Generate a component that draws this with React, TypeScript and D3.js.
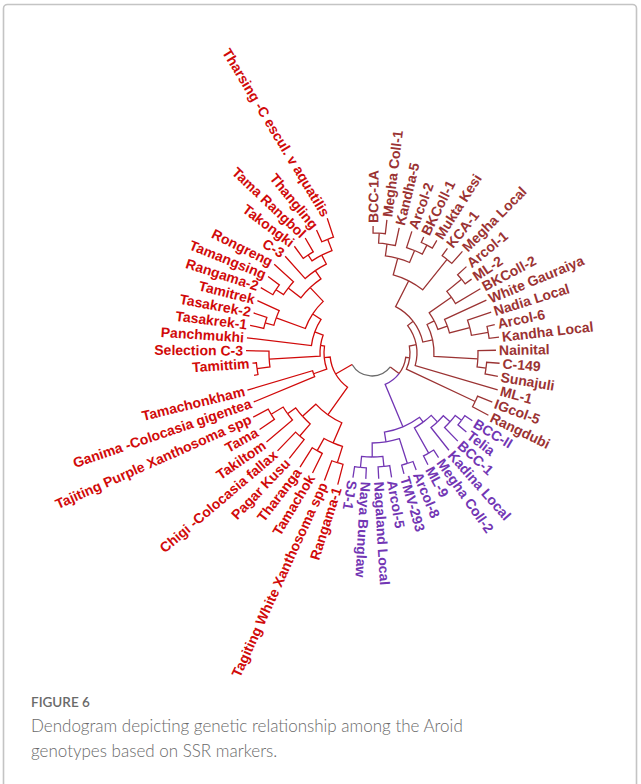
import React from 'react';
import * as d3 from 'd3';

// Newick fragments for each clade; branch lengths are genetic distances.
const brownTop =
  '((((BCC-1A:0.07,Megha Coll-1:0.14):0.10,Kandha-5:0.18):0.12,(Arcol-2:0.17,(BKColl-1:0.06,Mukta Kesi:0.09):0.10):0.13):0.17,(KCA-1:0.09,Megha Local:0.16):0.39)';
const brownMid =
  '(((Arcol-1:0.12,ML-2:0.08):0.19,BKColl-2:0.29):0.27,(White Gauraiya:0.46,(Nadia Local:0.25,(Arcol-6:0.08,Kandha Local:0.10):0.17):0.21):0.10)';
const brownNainital = '(Nainital:0.18,(C-149:0.13,Sunajuli:0.13):0.09)';
const brownClade = `(((${brownTop}:0.29,(${brownMid}:0.08,${brownNainital}:0.44):0.10):0.07,ML-1:0.86):0.07,(IGcol-5:0.16,Rangdubi:0.18):0.76)`;

const purpleRight =
  '((((BCC-II:0.09,Telia:0.11):0.08,BCC-1:0.19):0.09,Kadina Local:0.29):0.09,(Megha Coll-2:0.09,ML-9:0.10):0.29)';
const purpleLeft =
  '((Arcol-8:0.09,TMV-293:0.09):0.26,((Arcol-5:0.12,Nagaland Local:0.12):0.10,(Naya Bunglaw:0.11,SJ-1:0.11):0.11):0.14)';
const purpleClade = `(${purpleRight}:0.06,${purpleLeft}:0.10)`;

const redLower =
  '(((Rangama-1:0.21,Tagiting White Xanthosoma spp:0.21):0.17,(Tamachok:0.22,Tharanga:0.23):0.14):0.22,((Pagar Kusu:0.24,Chigi -Colocasia fallax:0.26):0.16,(Takiltom:0.34,(Tama:0.18,Tajiting Purple Xanthosoma spp:0.17):0.14):0.10):0.18)';
const redPair = '(Ganima -Colocasia gigentea:0.66,Tamachonkham:0.68)';
const redSelection = '((:0.04,Tamittim:0.04):0.13,Selection C-3:0.23)';
const redTasakrek = '((Tasakrek-1:0.14,Tasakrek-2:0.14):0.09,Tamitrek:0.24)';
const redTop =
  '(((Rangama-2:0.14,Tamangsing:0.14):0.09,Rongreng:0.26):0.16,(C-3:0.30,((Takongki:0.15,Tama Rangbol:0.16):0.07,(Thangling:0.13,Tharsing -C escul. v aquatilis:0.20):0.12):0.10):0.10)';
const redClade = `(${redLower}:0.34,(${redPair}:0.14,(${redSelection}:0.51,(Panchmukhi:0.65,(${redTasakrek}:0.31,${redTop}:0.19):0.10):0.09):0.04):0.06)`;

// stems joining the clades to the root
const stemLengths = { red: 0.19, brownPurple: 0.11, brown: 0.04, purple: 0.46 };

const cladeColors: Record<string, string> = {
  red: '#d10a0a',
  brown: '#9b3333',
  purple: '#7236b4',
};
const rootColor = '#6b6b6b';

const captionTitle = 'FIGURE 6';
const captionLines = [
  'Dendogram depicting genetic relationship among the Aroid',
  'genotypes based on SSR markers.',
];

type Nw = { name: string; length: number; clade?: string; children?: Nw[] };

function parseNewick(s: string): Nw {
  let i = 0;
  const read = (): Nw => {
    const n: Nw = { name: '', length: 0 };
    if (s[i] === '(') {
      i++;
      n.children = [read()];
      while (s[i] === ',') {
        i++;
        n.children.push(read());
      }
      i++;
    }
    let name = '';
    while (i < s.length && !':,();'.includes(s[i])) name += s[i++];
    n.name = name.trim();
    if (s[i] === ':') {
      i++;
      let num = '';
      while (i < s.length && !',();'.includes(s[i])) num += s[i++];
      n.length = parseFloat(num);
    }
    return n;
  };
  return read();
}

function tag(n: Nw, clade: string) {
  n.clade = clade;
  n.children?.forEach((c) => tag(c, clade));
}

const W = 641;
const H = 784;
const cx = 372;
const cy = 353;
const angleStart = -92.44;
const angleSpan = 347;

function buildTree() {
  const brown = parseNewick(brownClade);
  brown.length = stemLengths.brown;
  tag(brown, 'brown');
  const purple = parseNewick(purpleClade);
  purple.length = stemLengths.purple;
  tag(purple, 'purple');
  const red = parseNewick(redClade);
  red.length = stemLengths.red;
  tag(red, 'red');
  const bp: Nw = { name: '', length: stemLengths.brownPurple, clade: 'brown', children: [brown, purple] };
  const rootData: Nw = { name: '', length: 0, clade: 'root', children: [bp, red] };

  const root = d3.hierarchy<Nw>(rootData, (d) => d.children);
  d3.cluster<Nw>().size([angleSpan, 1]).separation(() => 1)(root);

  const dist = new Map<any, number>();
  root.each((n: any) => {
    dist.set(n, (n.parent ? dist.get(n.parent)! : 0) + (n.data.length || 0));
  });
  const rScale = d3.scaleLinear().domain([0, 1.2]).range([23, 143]);
  root.each((n: any) => {
    n.angle = n.x + angleStart;
    n.radius = rScale(dist.get(n)!);
  });
  return root as any;
}

const rad = (deg: number) => (deg * Math.PI) / 180;
const deg = (r: number) => (r * 180) / Math.PI;
const polar = (r: number, a: number): [number, number] => [r * Math.cos(rad(a)), r * Math.sin(rad(a))];

export default function App() {
  const root = buildTree();
  const nodes: any[] = root.descendants();
  const leaves: any[] = root.leaves();

  const links = nodes
    .filter((n) => n.parent)
    .map((n, k) => {
      const p = n.parent;
      const [x1, y1] = polar(p.radius, n.angle);
      const [x2, y2] = polar(n.radius, n.angle);
      let d: string;
      if (p.parent) {
        const [x0, y0] = polar(p.radius, p.angle);
        const sweep = n.angle > p.angle ? 1 : 0;
        d = `M${x0},${y0}A${p.radius},${p.radius} 0 0 ${sweep} ${x1},${y1}L${x2},${y2}`;
      } else {
        d = `M${x1},${y1}L${x2},${y2}`;
      }
      return <path key={k} d={d} fill="none" stroke={cladeColors[n.data.clade]} strokeWidth={1.3} />;
    });

  const kids = root.children as any[];
  const a0 = Math.min(kids[0].angle, kids[1].angle);
  const a1 = Math.max(kids[0].angle, kids[1].angle);
  const [rx0, ry0] = polar(root.radius, a0);
  const [rx1, ry1] = polar(root.radius, a1);
  const rootArc = `M${rx0},${ry0}A${root.radius},${root.radius} 0 0 1 ${rx1},${ry1}`;

  return (
    <svg
      width={W}
      height={H}
      style={{ position: 'absolute', left: 0, top: 0, background: '#fff' }}
      xmlns="http://www.w3.org/2000/svg"
    >
      <rect x={3.5} y={4.5} width={633} height={820} rx={4} fill="#fff" stroke="#c4c4c4" strokeWidth={1.6} />
      <g transform={`translate(${cx},${cy})`}>
        <path d={rootArc} fill="none" stroke={rootColor} strokeWidth={1.3} />
        {links}
        {leaves.map((n, k) => {
          const a = n.angle;
          const norm = ((a % 360) + 360) % 360;
          const flip = norm > 100 && norm <= 270;
          // labels are eased toward the horizontal for legibility
          const ease = flip ? (Math.sin(rad(a)) > 0 ? 0.82 : 0.55) : 0.9;
          const rot = deg(Math.atan2(ease * Math.sin(rad(a)), Math.cos(rad(a))));
          const [tx, ty] = polar(n.radius + 3, a);
          const t = `translate(${tx},${ty}) rotate(${rot})${flip ? ' rotate(180)' : ''}`;
          return (
            <text
              key={k}
              transform={t}
              textAnchor={flip ? 'end' : 'start'}
              dominantBaseline="central"
              fill={cladeColors[n.data.clade]}
              fontFamily="'Liberation Sans', Arial, sans-serif"
              fontWeight="bold"
              fontSize={14}
            >
              {n.data.name}
            </text>
          );
        })}
      </g>
      <text x={31} y={707} fill="#6a6a6a" fontFamily="Lato, 'Open Sans', sans-serif" fontSize={13.5} fontWeight={600}>
        {captionTitle}
      </text>
      {captionLines.map((line, k) => (
        <text
          key={k}
          x={31}
          y={732 + k * 25}
          fill="#6a6a6a"
          fontFamily="Lato, 'Open Sans', sans-serif"
          fontSize={17}
          fontWeight={300}
        >
          {line}
        </text>
      ))}
    </svg>
  );
}
